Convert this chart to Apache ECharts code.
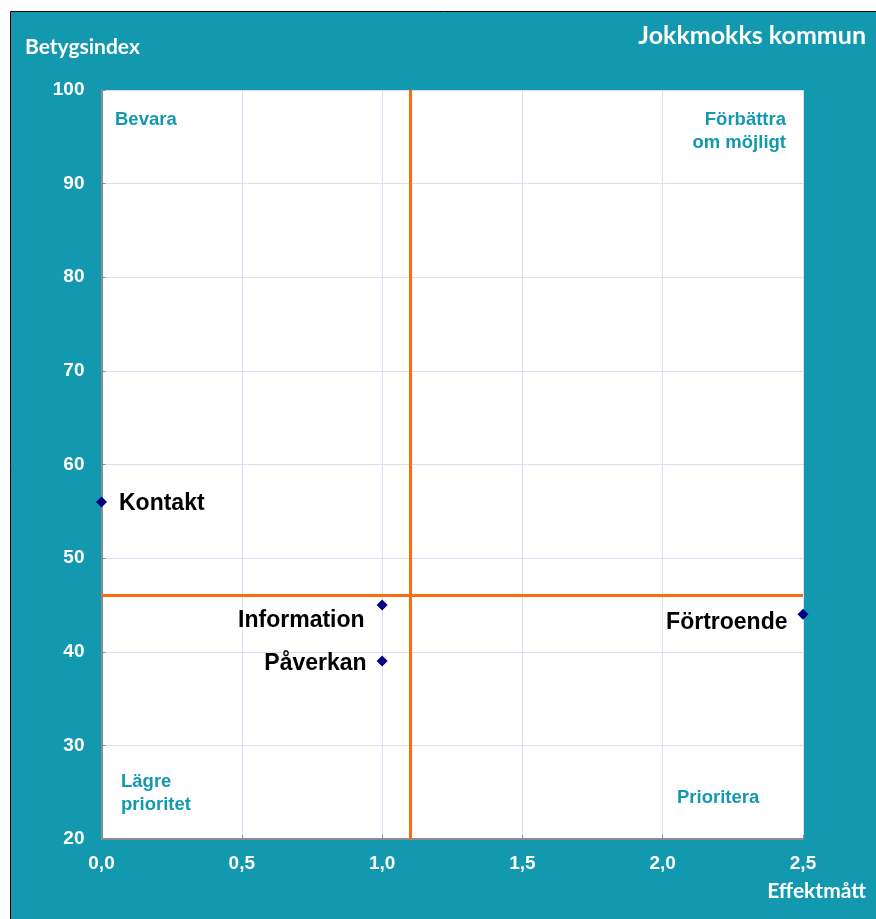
<!DOCTYPE html>
<html>
<head>
<meta charset="utf-8">
<script src="https://cdn.jsdelivr.net/npm/echarts@6/dist/echarts.min.js"></script>
<style>
html,body{margin:0;padding:0;background:#fff;}
#c{width:876px;height:919px;}
</style>
</head>
<body>
<div id="c"></div>
<script>
const names = ["Kontakt", "Information", "Påverkan", "Förtroende"];
const effekt = [0.0, 1.0, 1.0, 2.5];
const betyg = [56, 45, 39, 44];
const xTicks = ["0,0", "0,5", "1,0", "1,5", "2,0", "2,5"];
const yTicks = [20, 30, 40, 50, 60, 70, 80, 90, 100];
const refX = 1.1;
const refY = 46;
const title = "Jokkmokks kommun";
const yName = "Betygsindex";
const xName = "Effektmått";
const quadrants = ["Bevara", "Förbättra\nom möjligt", "Lägre\nprioritet", "Prioritera"];

const labelStyle = [
  {position: "right", distance: 12, offset: [0, 2]},
  {position: "left", distance: 12, offset: [0, 16]},
  {position: "left", distance: 10, offset: [0, 3]},
  {position: "left", distance: 10, offset: [0, 8]}
];

const teal = "#1399AF";
const chart = echarts.init(document.getElementById("c"), null, {renderer: "canvas"});
const qFont = {fontFamily: "Liberation Sans, Arial", fontWeight: "bold", fontSize: 18.5, fill: teal, lineHeight: 23};
const calibri = "Lato, 'Open Sans'";

chart.setOption({
  animation: false,
  backgroundColor: "#fff",
  title: {
    text: title, right: 5, top: 18,
    textStyle: {color: "#fff", fontFamily: "Lato, Open Sans", fontWeight: "bold", fontSize: 25}
  },
  graphic: [
    {type: "rect", z: -10, shape: {x: 10.5, y: 11.5, width: 880, height: 920}, style: {fill: teal, stroke: "#000", lineWidth: 1}},
    {type: "text", z: 10, x: 25, y: 37, style: {text: yName, fill: "#fff", font: "bold 21px " + calibri}},
    {type: "text", z: 10, x: 866, y: 881, style: {text: xName, align: "right", fill: "#fff", font: "bold 21px " + calibri}},
    {type: "text", z: 10, x: 115, y: 108, style: Object.assign({text: quadrants[0]}, qFont)},
    {type: "text", z: 10, x: 786, y: 108, style: Object.assign({text: quadrants[1], align: "right"}, qFont)},
    {type: "text", z: 10, x: 121, y: 770, style: Object.assign({text: quadrants[2]}, qFont)},
    {type: "text", z: 10, x: 677, y: 786, style: Object.assign({text: quadrants[3]}, qFont)}
  ],
  grid: {left: 101.5, right: 73, top: 90, bottom: 80, show: true, backgroundColor: "#fff", borderWidth: 0},
  xAxis: {
    type: "value", min: 0, max: 2.5, interval: 0.5,
    axisLine: {show: true, onZero: false, lineStyle: {color: "#8c8c8c", width: 2}},
    axisTick: {show: true, inside: true, length: 4, lineStyle: {color: "#8c8c8c"}},
    splitLine: {show: true, lineStyle: {color: "#dcdcf5", width: 1}},
    axisLabel: {
      color: "#fff", fontFamily: "Liberation Sans, Arial", fontWeight: "bold", fontSize: 19, margin: 15,
      formatter: function (v) { return xTicks[Math.round(v / 0.5)]; }
    }
  },
  yAxis: {
    type: "value", min: 20, max: 100, interval: 10,
    axisLine: {show: true, onZero: false, lineStyle: {color: "#8c8c8c", width: 2}},
    axisTick: {show: true, inside: true, length: 4, lineStyle: {color: "#8c8c8c"}},
    splitLine: {show: true, lineStyle: {color: "#dcdcf5", width: 1}},
    axisLabel: {
      color: "#fff", fontFamily: "Liberation Sans, Arial", fontWeight: "bold", fontSize: 19, margin: 17,
      formatter: function (v) { return yTicks.indexOf(v) >= 0 ? String(v) : ""; }
    }
  },
  series: [{
    type: "scatter",
    symbol: "diamond",
    symbolSize: 11,
    itemStyle: {color: "#000080", opacity: 1},
    z: 5,
    clip: false,
    data: names.map(function (n, i) {
      return {
        name: n, value: [effekt[i], betyg[i]],
        label: Object.assign({show: true, formatter: "{b}", color: "#000", fontFamily: "Liberation Sans, Arial", fontWeight: "bold", fontSize: 23}, labelStyle[i])
      };
    }),
    markLine: {
      silent: true, symbol: "none", z: 3,
      label: {show: false},
      lineStyle: {color: "#FF6A0D", width: 3, type: "solid", opacity: 1},
      data: [{xAxis: refX}, {yAxis: refY}]
    }
  }]
});
</script>
</body>
</html>
